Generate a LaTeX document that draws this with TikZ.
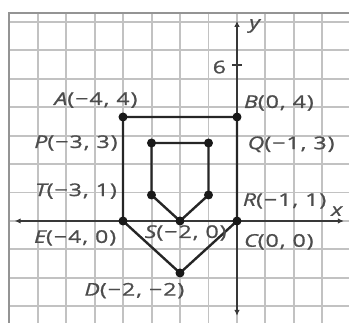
\documentclass[tikz,border=0pt]{standalone}
\usepackage{fontspec}
\newfontfamily\lblfont[FakeStretch=1.32,LetterSpace=6,FakeBold=1]{Open Sans}
\usetikzlibrary{arrows.meta}

\begin{document}
\begin{tikzpicture}[
    x=28.5pt, y=26pt,
    every node/.style={font=\lblfont\fontsize{17.5}{19}\selectfont, text=black!70},
    gridline/.style={draw=black!24, line width=1.9pt},
    gridframe/.style={draw=black!42, line width=2.6pt},
    axis/.style={draw=black!78, line width=2.1pt, {Latex[length=6pt,width=5.5pt]}-{Latex[length=6pt,width=5.5pt]}},
    edge/.style={draw=black!85, line width=2.4pt, line join=round},
    dot/.style={circle, fill=black!90, inner sep=0pt, minimum size=9pt},
    lbl/.style={inner sep=1pt}
]
\useasboundingbox (-8.316,-3.885) rectangle (3.93,8.5);

% grid paper
\draw[gridline] (-8,-4) grid (4,8);
\draw[gridframe] (-8,-4) rectangle (4,8);

% axes
\coordinate (xl) at (-7.8,0);
\coordinate (xr) at (3.75,0);
\coordinate (yb) at (0,-3.65);
\coordinate (yt) at (0,7.7);
\draw[axis] (xl) -- (xr);
\draw[axis] (yb) -- (yt);
\draw[draw=black!78, line width=1.6pt] (-0.17,6) -- (0.17,6);
\node (six) at (-0.62,5.92) {6};
\node (xlab) at (3.5,0.38) {\itshape x};
\node (ylab) at (0.62,7.5) {\itshape y};

% vertices
\foreach \name/\px/\py in {A/-4/4, B/0/4, C/0/0, D/-2/-2, E/-4/0,
                           P/-3/3, Q/-1/3, R/-1/1, S/-2/0, T/-3/1}
    \coordinate (\name) at (\px,\py);

% outer and inner pentagons
\draw[edge] (A) -- (B) -- (C) -- (D) -- (E) -- cycle;
\draw[edge] (P) -- (Q) -- (R) -- (S) -- (T) -- cycle;
\foreach \name in {A, B, C, D, E, P, Q, R, S, T}
    \node[dot] (\name dot) at (\name) {};

% labels
\node[lbl] (Alab) at (-4.95,4.65) {{\itshape A}(−4, 4)};
\node[lbl] (Blab) at (1.47,4.54) {{\itshape B}(0, 4)};
\node[lbl] (Plab) at (-5.65,3.0) {{\itshape P}(−3, 3)};
\node[lbl] (Qlab) at (1.9,2.95) {{\itshape Q}(−1, 3)};
\node[lbl] (Tlab) at (-5.65,1.15) {{\itshape T}(−3, 1)};
\node[lbl] (Rlab) at (1.67,0.77) {{\itshape R}(−1, 1)};
\node[lbl] (Elab) at (-5.68,-0.65) {{\itshape E}(−4, 0)};
\node[lbl] (Clab) at (1.47,-0.8) {{\itshape C}(0, 0)};
\node[lbl] (Slab) at (-1.8,-0.46) {{\itshape S}(−2, 0)};
\node[lbl] (Dlab) at (-3.6,-2.68) {{\itshape D}(−2, −2)};
\end{tikzpicture}
\end{document}
